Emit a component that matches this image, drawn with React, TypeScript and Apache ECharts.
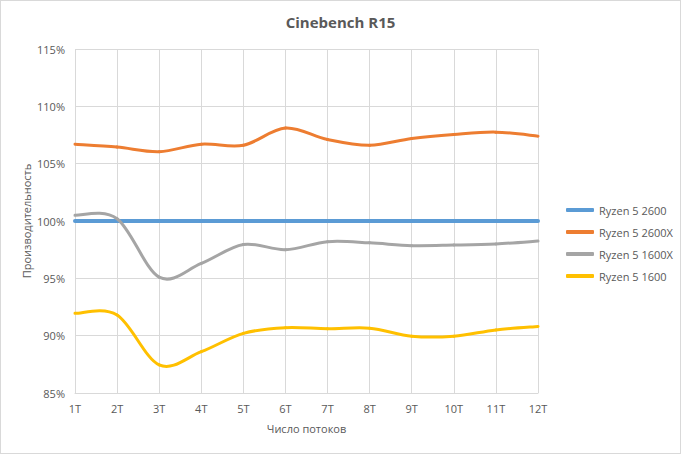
import React, { useEffect, useRef } from "react";
import * as echarts from "echarts";

const categories = ["1T", "2T", "3T", "4T", "5T", "6T", "7T", "8T", "9T", "10T", "11T", "12T"];
const seriesNames = ["Ryzen 5 2600", "Ryzen 5 2600X", "Ryzen 5 1600X", "Ryzen 5 1600"];
const ryzen2600 = [100, 100, 100, 100, 100, 100, 100, 100, 100, 100, 100, 100];
const ryzen2600X = [106.7, 106.45, 106.05, 106.7, 106.6, 108.1, 107.1, 106.6, 107.2, 107.55, 107.75, 107.4];
const ryzen1600X = [100.5, 100.2, 95.1, 96.3, 97.95, 97.5, 98.2, 98.1, 97.85, 97.9, 98.0, 98.25];
const ryzen1600 = [91.95, 91.8, 87.45, 88.6, 90.2, 90.7, 90.6, 90.65, 89.95, 89.95, 90.5, 90.8];
const colors = ["#5b9bd5", "#ed7d31", "#a5a5a5", "#ffc000"];
const lineWidths = [4, 3, 3, 3];

const FONT = "'Open Sans', sans-serif";
const TXT = "#595959";

function makeRenderItem(color: string, width: number) {
  return (params: any, api: any) => {
    const n = params.dataInsideLength;
    const i = params.dataIndexInside;
    if (i >= n - 1) return null;
    const pt = (k: number) => api.coord([api.value(0, k), api.value(1, k)]);
    const p0 = pt(Math.max(i - 1, 0));
    const p1 = pt(i);
    const p2 = pt(i + 1);
    const p3 = pt(Math.min(i + 2, n - 1));
    return {
      type: "bezierCurve",
      silent: true,
      shape: {
        x1: p1[0],
        y1: p1[1],
        x2: p2[0],
        y2: p2[1],
        cpx1: p1[0] + (p2[0] - p0[0]) / 6,
        cpy1: p1[1] + (p2[1] - p0[1]) / 6,
        cpx2: p2[0] - (p3[0] - p1[0]) / 6,
        cpy2: p2[1] - (p3[1] - p1[1]) / 6,
      },
      style: { stroke: color, lineWidth: width, fill: null, lineCap: "round" },
    };
  };
}

export default function App() {
  const ref = useRef<HTMLDivElement>(null);
  useEffect(() => {
    document.body.style.margin = "0";
    const chart = echarts.init(ref.current!, null, { renderer: "svg" });
    const data = [ryzen2600, ryzen2600X, ryzen1600X, ryzen1600];
    chart.setOption({
      animation: false,
      color: colors,
      textStyle: { fontFamily: FONT },
      title: {
        text: "Cinebench R15",
        left: "center",
        top: 9,
        textStyle: { fontFamily: FONT, fontSize: 15, fontWeight: "bold", color: TXT },
      },
      legend: {
        orient: "vertical",
        left: 561,
        top: 198,
        itemWidth: 28,
        itemHeight: 4,
        itemGap: 8,
        icon: "roundRect",
        textStyle: { fontFamily: FONT, fontSize: 11, color: TXT, lineHeight: 14 },
        data: seriesNames,
      },
      grid: { left: 75, right: 143, top: 49, bottom: 61 },
      xAxis: {
        type: "category",
        data: categories,
        boundaryGap: false,
        name: "Число потоков",
        nameLocation: "middle",
        nameGap: 30,
        nameTextStyle: { fontFamily: FONT, fontSize: 11, color: TXT },
        axisLine: { lineStyle: { color: "#d9d9d9", width: 1 } },
        axisTick: { show: false },
        axisLabel: { fontFamily: FONT, fontSize: 11, color: TXT, margin: 10 },
        splitLine: { show: true, lineStyle: { color: "#d9d9d9", width: 1 } },
      },
      yAxis: {
        type: "value",
        min: 85,
        max: 115,
        interval: 5,
        name: "Производительность",
        nameLocation: "middle",
        nameGap: 49,
        nameMoveOverlap: false,
        nameTextStyle: { fontFamily: FONT, fontSize: 11, color: TXT, verticalAlign: "middle" },
        axisLine: { show: false },
        axisTick: { show: false },
        axisLabel: { fontFamily: FONT, fontSize: 11, color: TXT, margin: 10, formatter: "{value}%" },
        splitLine: { show: true, lineStyle: { color: "#d9d9d9", width: 1 } },
      },
      series: seriesNames.map((name, i) => ({
        name,
        type: "custom",
        data: data[i].map((v, k) => [k, v]),
        encode: { x: 0, y: 1 },
        itemStyle: { color: colors[i] },
        renderItem: makeRenderItem(colors[i], lineWidths[i]),
      })),
    });
    return () => chart.dispose();
  }, []);
  return (
    <div
      style={{
        position: "absolute",
        left: 0,
        top: 0,
        width: 681,
        height: 454,
        border: "1px solid #d9d9d9",
        boxSizing: "border-box",
        background: "#fff",
      }}
    >
      <div ref={ref} style={{ position: "absolute", left: -1, top: -1, width: 681, height: 454 }} />
    </div>
  );
}
